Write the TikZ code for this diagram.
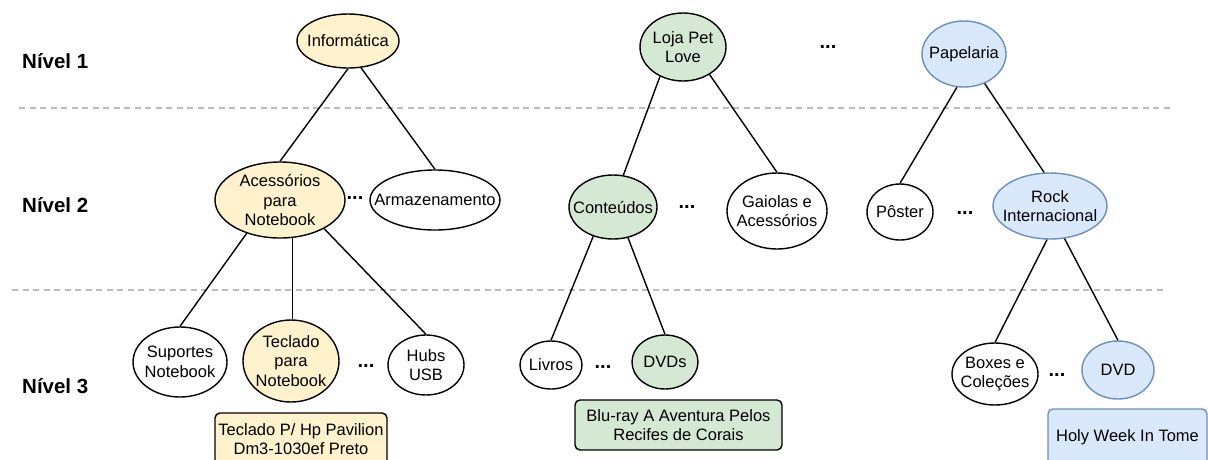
\documentclass[tikz,border=0pt]{standalone}
\usepackage{fontspec}
\setmainfont{Liberation Sans}
\usetikzlibrary{shapes.geometric}
\definecolor{ylw}{HTML}{FFF2CC}
\definecolor{grn}{HTML}{D5E8D4}
\definecolor{blu}{HTML}{DAE8FC}
\definecolor{bluline}{HTML}{6C8EBF}
\definecolor{sepgray}{HTML}{BDBDBD}
\begin{document}
\begin{tikzpicture}[x=1pt,y=-1pt,
  txt/.style={font=\fontsize{16.5}{19.5}\selectfont, align=center, text=black},
  ell/.style={ellipse, draw=black, line width=1.4pt, fill=white, inner sep=0pt},
  yelnode/.style={ell, fill=ylw},
  grenode/.style={ell, fill=grn},
  blunode/.style={ell, fill=blu, draw=bluline},
  rbox/.style={rectangle, rounded corners=5pt, draw=black, line width=1.4pt, inner sep=0pt, txt},
  edge/.style={line width=1.4pt, black},
  sepline/.style={line width=1.6pt, sepgray, dash pattern=on 6pt off 4.5pt},
  lvl/.style={font=\fontsize{20.5}{24}\bfseries\selectfont, inner sep=0pt, anchor=base west},
  gap/.style={font=\fontsize{20}{24}\bfseries\selectfont, inner sep=0pt},
  sz/.style 2 args={minimum width=#1, minimum height=#2}
]
\useasboundingbox (0,0) rectangle (1208,459);

% level separators
\draw[sepline] (19,108) -- (1170,108);
\draw[sepline] (12,290) -- (1167,290);

% level titles
\node[lvl] (lv1) at (22,68) {Nível 1};
\node[lvl] (lv2) at (22,212) {Nível 2};
\node[lvl] (lv3) at (22,393) {Nível 3};

% Informática tree
\node[yelnode, sz={102}{54}, label={[txt]center:Informática}] (inf) at (348,41) {};
\node[yelnode, sz={130}{76}, label={[txt]center:Acessórios\\para\\Notebook}] (acc) at (280,200) {};
\node[ell, sz={130}{60}, label={[txt]center:Armazenamento}] (arm) at (435,200) {};
\node[ell, sz={94}{70}, label={[txt]center:Suportes\\Notebook}] (sup) at (180,362) {};
\node[yelnode, sz={96}{82}, label={[txt]center:Teclado\\para\\Notebook}] (tec) at (291,361) {};
\node[ell, sz={76}{60}, label={[txt]center:Hubs\\USB}] (hub) at (426,365) {};
\node[rbox, fill=ylw, sz={172}{52}] (tecp) at (301,439) {Teclado P/ Hp Pavilion\\Dm3-1030ef Preto};
\node[gap] (d1) at (355,198) {...};
\node[gap] (d2) at (366,366) {...};

% Loja Pet Love tree
\node[grenode, sz={86}{68}, label={[txt]center:Loja Pet\\Love}] (loja) at (683,47) {};
\node[grenode, sz={88}{64}, label={[txt]center:Conteúdos}] (cont) at (613,207) {};
\node[ell, sz={100}{76}, label={[txt]center:Gaiolas e\\Acessórios}] (gai) at (777,211) {};
\node[ell, sz={62}{48}, label={[txt]center:Livros}] (liv) at (551,365) {};
\node[grenode, sz={66}{54}, label={[txt]center:DVDs}] (dvds) at (665,362) {};
\node[rbox, fill=grn, sz={207}{50}] (blu) at (678.5,425) {Blu-ray A Aventura Pelos\\Recifes de Corais};
\node[gap] (d3) at (828,47) {...};
\node[gap] (d4) at (687,207) {...};
\node[gap] (d5) at (603,367) {...};

% Papelaria tree
\node[blunode, sz={84}{66}, label={[txt]center:Papelaria}] (pap) at (964,54) {};
\node[ell, sz={66}{56}, label={[txt]center:Pôster}] (pos) at (900,212) {};
\node[blunode, sz={114}{66}, label={[txt]center:Rock\\Internacional}] (rock) at (1050,206) {};
\node[ell, sz={86}{62}, label={[txt]center:Boxes e\\Coleções}] (box) at (995,374) {};
\node[blunode, sz={72}{58}, label={[txt]center:DVD}] (dvd) at (1118,370) {};
\node[rbox, fill=blu, draw=bluline, sz={159}{56}] (holy) at (1127.5,437) {Holy Week In Tome};
\node[gap] (d6) at (965,213) {...};
\node[gap] (d7) at (1057,375) {...};

% connectors
\draw[edge] (inf.south) -- (acc.north);
\draw[edge] (inf.-64) -- (arm.north);
\draw[edge] (acc.-135) -- (sup.north);
\draw[edge] (acc.-72) -- (acc.-72 |- tec.north);
\draw[edge] (acc.-33) -- (hub.north);
\draw[edge] (loja.-128) -- (cont.72);
\draw[edge] (loja.-46) -- (gai.north);
\draw[edge] (cont.-124) -- (liv.north);
\draw[edge] (cont.-64) -- (dvds.north);
\draw[edge] (pap.-102) -- (pos.north);
\draw[edge] (pap.-55) -- (rock.100);
\draw[edge] (rock.-95) -- (box.north);
\draw[edge] (rock.-66) -- (dvd.north);
\end{tikzpicture}
\end{document}
